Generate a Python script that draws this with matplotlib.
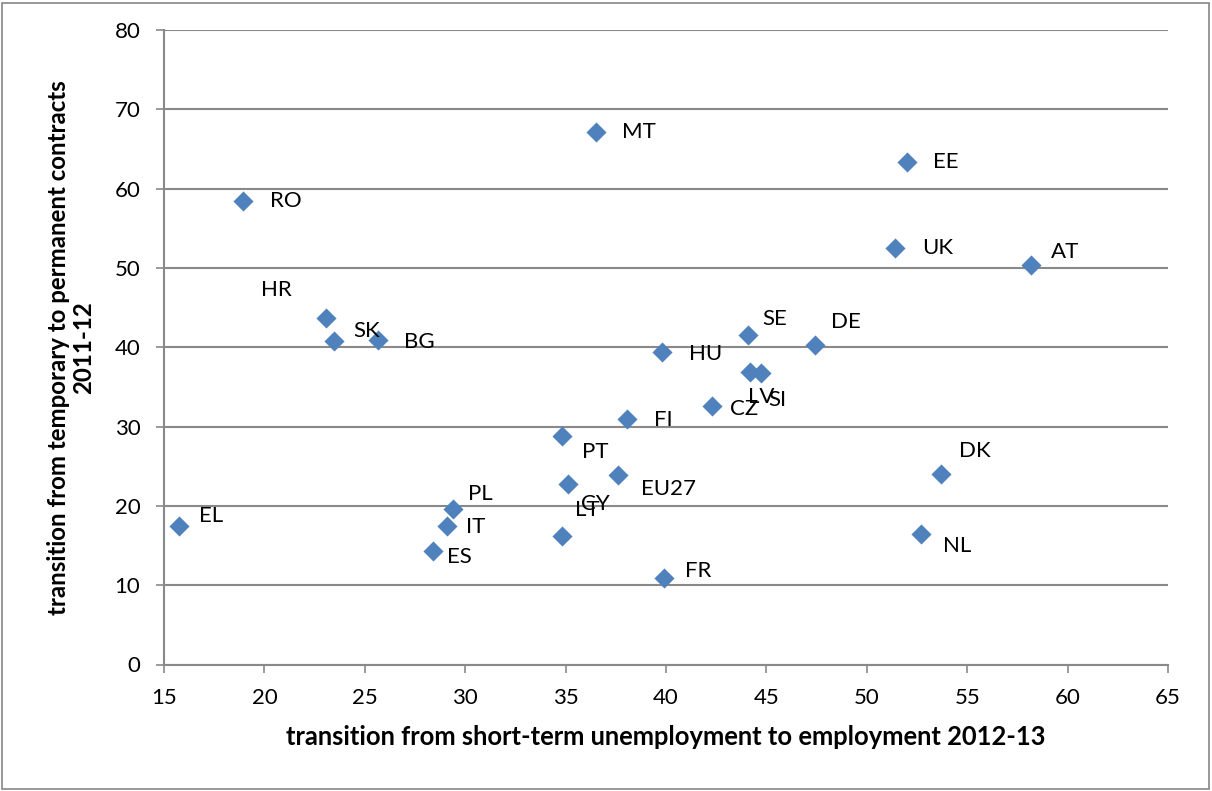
import matplotlib
matplotlib.use("Agg")
import matplotlib.pyplot as plt
from matplotlib.patches import Rectangle

# country codes with x = short-term unemployment -> employment (2012-13),
# y = temporary -> permanent contracts (2011-12)
countries = ["RO", "MT", "EE", "UK", "AT", "HR", "SK", "BG", "SE", "DE",
             "HU", "LV", "SI", "CZ", "FI", "PT", "EU27", "CY", "LT", "FR",
             "DK", "NL", "EL", "PL", "IT", "ES"]
x_vals = [18.95, 36.5, 52.0, 51.4, 58.2, 23.07, 23.47, 25.67, 44.09, 47.4,
          39.8, 44.19, 44.72, 42.28, 38.08, 34.8, 37.6, 35.1, 34.8, 39.9,
          53.7, 52.7, 15.76, 29.38, 29.08, 28.38]
y_vals = [58.5, 67.2, 63.4, 52.5, 50.4, 43.7, 40.8, 40.9, 41.6, 40.25,
          39.37, 36.85, 36.7, 32.65, 30.97, 28.87, 23.87, 22.77, 16.2, 10.9,
          24.03, 16.5, 17.4, 19.6, 17.5, 14.35]

# label offsets (pixels, right/down) relative to the marker
label_off = {
    "RO": (27, 0), "MT": (26, 0), "EE": (26, 0), "UK": (27, 0), "AT": (19, -13),
    "HR": (-65, -28), "SK": (19, -10), "BG": (26, 2), "SE": (14, -16),
    "DE": (16, -23), "HU": (27, 2), "LV": (-2, 25), "SI": (8, 27),
    "CZ": (18, 3), "FI": (27, 1), "PT": (20, 16), "EU27": (23, 14),
    "CY": (13, 20), "LT": (13, -26), "FR": (21, -7), "DK": (18, -23),
    "NL": (22, 12), "EL": (20, -10), "PL": (15, -15), "IT": (19, 1),
    "ES": (14, 6),
}

FONT = ["Lato", "DejaVu Sans"]

W, H = 1212, 791
fig = plt.figure(figsize=(W / 100, H / 100), dpi=100)
ax = fig.add_axes([164 / W, 1 - 664.5 / H, (1168 - 164) / W, (664.5 - 30) / H])

grid_col = "#898989"
ax.set_xlim(15, 65)
ax.set_ylim(0, 80)
ax.set_xticks(range(15, 66, 5))
ax.set_yticks(range(0, 81, 10))
ax.yaxis.grid(True, color=grid_col, linewidth=1.5)
ax.set_axisbelow(True)
for side in ["top", "right"]:
    ax.spines[side].set_visible(False)
for side in ["left", "bottom"]:
    ax.spines[side].set_color(grid_col)
    ax.spines[side].set_linewidth(1.5)

ax.tick_params(axis="y", length=6, width=1.2, color=grid_col, pad=11,
               labelsize=16)
ax.tick_params(axis="x", length=6, width=1.2, color=grid_col, pad=11,
               labelsize=16)
for lab in ax.get_xticklabels() + ax.get_yticklabels():
    lab.set_family(FONT)

ax.scatter(x_vals, y_vals, marker="D", s=105, color="#4F81BD", zorder=3,
           linewidths=0)

for name, xv, yv in zip(countries, x_vals, y_vals):
    dx, dy = label_off[name]
    ax.annotate(name, (xv, yv), xytext=(dx * 0.72, -dy * 0.72),
                textcoords="offset points", ha="left", va="center",
                fontsize=16, family=FONT, zorder=4)

ax.set_xlabel("transition from short-term unemployment to employment 2012-13",
              fontsize=18.4, fontweight="bold", family=FONT, labelpad=12)
ax.set_ylabel("transition from temporary to permanent contracts\n2011-12",
              fontsize=17.3, fontweight="bold", linespacing=1.1,
              family=FONT, labelpad=14)

fig.patches.append(Rectangle((2 / W, 2 / H), (W - 5) / W, (H - 5) / H,
                             transform=fig.transFigure, fill=False,
                             edgecolor="#868686", linewidth=1.2))

fig.savefig("out.png", dpi=100)
